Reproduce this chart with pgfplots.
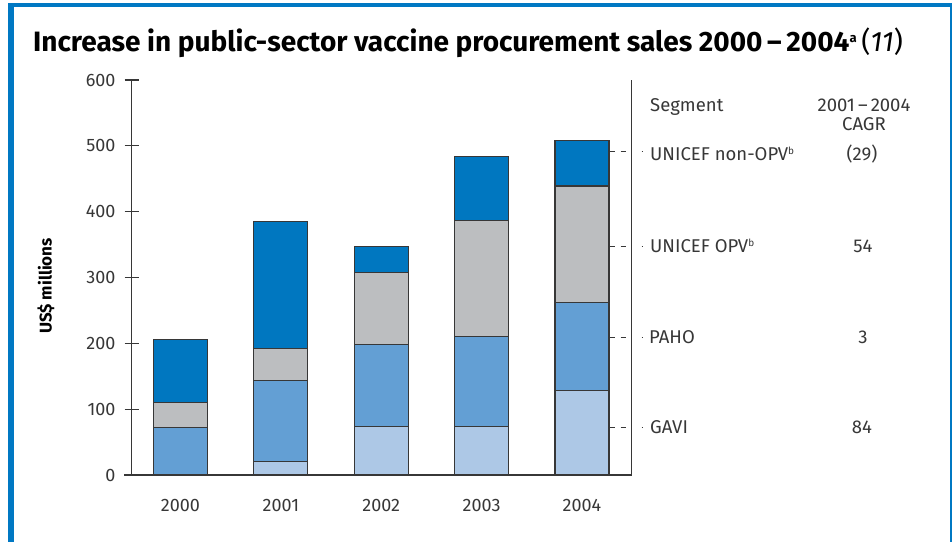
\documentclass[border=0pt]{standalone}
\usepackage{pgfplots}
\pgfplotsset{compat=1.18}
\usepackage{fontspec}
\setmainfont{Fira Sans}
\definecolor{framecol}{RGB}{0,120,195}
\definecolor{cnon}{RGB}{0,119,192}
\definecolor{copv}{RGB}{188,190,192}
\definecolor{cpaho}{RGB}{99,159,212}
\definecolor{cgavi}{RGB}{173,200,230}
\definecolor{ink}{RGB}{55,55,55}
\begin{document}
\begin{tikzpicture}
\begin{axis}[
  scale only axis, width=500pt, height=395pt,
  xmin=-0.486, xmax=4.495, ymin=0, ymax=600,
  ybar stacked, bar width=54pt,
  axis x line*=bottom, axis y line*=left,
  axis line style={-, draw=ink, line width=1.2pt},
  xtick={0,1,2,3,4}, xticklabels={2000,2001,2002,2003,2004},
  x tick style={draw=none},
  ytick={0,100,...,600},
  y tick style={draw=ink, line width=1.2pt}, major tick length=14pt, tick align=center,
  /pgf/number format/assume math mode=true,
  ticklabel style={font=\fontsize{18}{20}\selectfont, text=ink},
  xticklabel style={anchor=base, inner sep=0pt, yshift=-29.7pt},
  yticklabel style={anchor=east, inner sep=0pt, xshift=-9pt},
  clip=false,
  every axis plot/.append style={draw=ink, line width=1.1pt},
]
\addplot[fill=cgavi] coordinates {(0,0) (1,20) (2,74) (3,74) (4,128.5)};
\addplot[fill=cpaho] coordinates {(0,72) (1,123) (2,124) (3,136) (4,134)};
\addplot[fill=copv] coordinates {(0,38) (1,48.5) (2,109) (3,177) (4,176.5)};
\addplot[fill=cnon] coordinates {(0,96) (1,193) (2,39.5) (3,96.5) (4,69.5)};
\coordinate (O) at (rel axis cs:0,0);
\end{axis}
\begin{scope}[shift={(O)}, x=1pt, y=1pt]
\fill[framecol] (-123.7,-67) rectangle (-117.7,472);
\fill[framecol] (-123.7,468) rectangle (820.3,472);
\fill[framecol] (818.3,-67) rectangle (820.3,472);
\node[anchor=base west,inner sep=0pt] at (-98.7,423.3) {\fontsize{28}{32}\selectfont\bfseries Increase in public-sector vaccine procurement sales 2000\,--\,2004\raisebox{0.6ex}{\fontsize{13}{13}\selectfont a}\,\mdseries(\textit{11})};
\node[rotate=90,inner sep=0pt] at (-85.7,189) {\fontsize{17}{20}\selectfont\bfseries US\$ millions};
\draw[ink, line width=1.2pt] (500,0) -- (500,395);
\draw[ink, line width=1.2pt] (-7.7,0) -- (500,0);
\foreach \yy in {323.3,229,137.3,47.3} {
  \draw[ink, line width=1pt, dash pattern=on 5pt off 5.5pt] (478.3,\yy) -- (495.3,\yy);
  \draw[ink, line width=1pt] (509.8,\yy) -- (511.3,\yy);
}
\begin{scope}[every node/.style={inner sep=0pt, text=ink, font=\fontsize{18.5}{21}\selectfont}]
\node[anchor=base west] at (518.3,364) {Segment};
\node[anchor=base] at (732.3,364) {2001\,--\,2004};
\node[anchor=base] at (732.3,345) {CAGR};
\node[anchor=base west] at (518.3,315) {UNICEF non-OPV\raisebox{0.6ex}{\fontsize{10}{10}\selectfont b}};
\node[anchor=base] at (730.3,315) {(29)};
\node[anchor=base west] at (518.3,223) {UNICEF OPV\raisebox{0.6ex}{\fontsize{10}{10}\selectfont b}};
\node[anchor=base] at (731.3,223) {54};
\node[anchor=base west] at (517.3,132) {PAHO};
\node[anchor=base] at (731.3,132) {3};
\node[anchor=base west] at (518.3,42) {GAVI};
\node[anchor=base] at (730.3,42) {84};
\end{scope}
\pgfresetboundingbox
\path[use as bounding box] (-131.7,-67) rectangle (820.3,475);
\end{scope}
\end{tikzpicture}
\end{document}
